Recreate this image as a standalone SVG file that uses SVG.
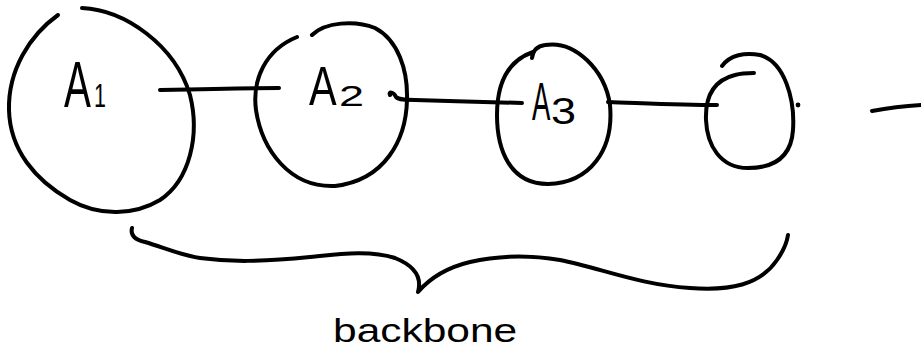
<svg xmlns="http://www.w3.org/2000/svg" width="921" height="362" viewBox="0 0 921 362">
  <style>
    .ink { fill: none; stroke: #000; stroke-width: 4; stroke-linecap: round; stroke-linejoin: round; }
    .lbl { font-family: "Liberation Sans", Arial, sans-serif; fill: #000; }
  </style>
  <rect width="921" height="362" fill="#fff"/>

  <!-- connectors -->
  <g id="connectors">
    <path class="ink" d="M160,90 C200,89 240,88 279,88"/>
    <path class="ink" d="M390,95 C388,91 394,92 396,97 C399,100 405,100 415,100 C450,101 490,102 522,103"/>
    <path class="ink" d="M608,102 C640,103 680,105 717,105"/>
    <path class="ink" d="M872,111 C888,108 905,106 921,105"/>
  </g>

  <!-- A1 -->
  <g id="node-a1">
    <path class="ink" d="M82,8 C125,10 175,45 190,95 C200,135 190,180 160,200 C135,215 100,217 70,200 C35,180 10,150 9,110 C8,70 30,35 58,15"/>
    <text class="lbl" font-size="64" transform="translate(64,107) scale(0.63,1)">A</text>
    <text class="lbl" font-size="34" transform="translate(94,107) scale(0.63,1)">1</text>
  </g>

  <!-- A2 -->
  <g id="node-a2">
    <path class="ink" d="M312,35 C325,22 355,20 375,28 C398,40 408,70 407,100 C406,140 385,180 335,186 C290,188 262,150 256,110 C252,80 265,50 297,37"/>
    <text class="lbl" font-size="56" transform="translate(309,105) scale(0.74,1)">A</text>
    <text class="lbl" font-size="30" transform="translate(339,106) scale(1.5,1)">2</text>
  </g>

  <!-- A3 -->
  <g id="node-a3">
    <path class="ink" d="M532,58 C533,50 538,46 545,45 C575,40 605,70 610,105 C614,150 590,183 548,184 C510,184 497,150 497,115 C497,80 510,60 533,52"/>
    <text class="lbl" font-size="53" transform="translate(532,120) scale(0.52,1)">A</text>
    <text class="lbl" font-size="36" transform="translate(551,124) scale(1.25,1)">3</text>
  </g>

  <!-- unlabeled fourth node -->
  <g id="node-a4">
    <path class="ink" d="M722,66 C730,55 745,52 760,55 C785,62 795,100 793,130 C791,160 770,168 748,168 C720,168 707,145 706,120 C705,95 715,80 735,75 C742,73 748,73 754,73"/>
    <circle cx="798" cy="105" r="2.4" fill="#000"/>
  </g>

  <!-- brace under the chain -->
  <g id="backbone">
    <path class="ink" d="M132,228 C130,236 136,240 145,242 C165,248 180,255 200,258 C230,262 260,262 310,257 C340,254 370,250 395,258 C415,266 422,278 418,292 C430,278 445,268 470,262 C500,255 530,255 560,260 C600,268 640,285 690,288 C730,291 760,285 777,260 C784,250 787,242 788,235"/>
    <text class="lbl" font-size="34" transform="translate(333,342) scale(1.25,1)">backbone</text>
  </g>
</svg>
